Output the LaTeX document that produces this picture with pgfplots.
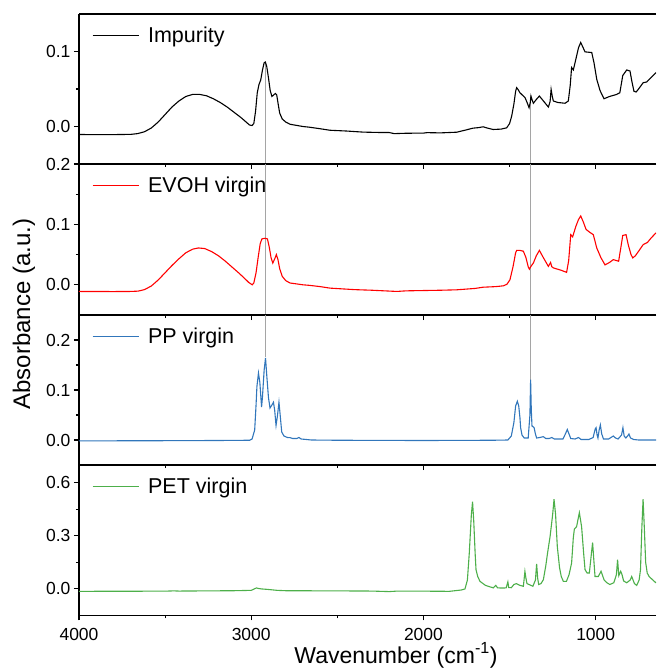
\documentclass[border=0pt]{standalone}
\usepackage{fontspec}
\setmainfont{Liberation Sans}
\usepackage{pgfplots}
\pgfplotsset{compat=1.18}
\definecolor{ppblue}{RGB}{49,118,187}
\definecolor{petgreen}{RGB}{77,175,74}
\definecolor{vgray}{RGB}{165,165,165}
\pgfplotsset{
 panel/.style={
  scale only axis, width=577pt, xmin=650, xmax=4000, x dir=reverse,
  axis x line*=box, axis y line*=left,
  xtick={1000,2000,3000,4000}, minor x tick num=1, minor y tick num=1,
  xtick pos=lower, ytick pos=left,
  tick align=outside,
  major tick length=5pt, minor tick length=3pt,
  every tick/.style={black, line width=1.1pt},
  axis line style={line width=1.2pt, -},
  tick label style={font=\fontsize{17.5}{20}\selectfont},
  /pgf/number format/assume math mode=true,
  yticklabel style={/pgf/number format/.cd, fixed, fixed zerofill, precision=1},
  xticklabel style={/pgf/number format/1000 sep={}, yshift=-4pt},
  legend style={draw=none, fill=none, at={(0,1)}, anchor=north west,
    xshift=13pt, yshift=-13.3pt, inner sep=0pt, outer sep=0pt,
    nodes={inner sep=0pt, outer sep=0pt},
    font=\fontsize{21.5}{24}\selectfont},
  legend cell align=left,
  legend image code/.code={\draw[##1] (0pt,0pt) -- (46pt,0pt); \path (55pt,0pt);},
 }
}
\begin{document}
\begin{tikzpicture}
\path[use as bounding box] (0pt,0pt) rectangle (656pt,-668pt);

% Panel 1: Impurity
\begin{axis}[panel, at={(79pt,-14pt)}, anchor=north west, height=150pt,
  ymin=-0.05, ymax=0.15, ytick={0,0.1}, xticklabels={}]
\draw[vgray, line width=1pt] (axis cs:2920,0.086) -- (axis cs:2920,-0.05);
\draw[vgray, line width=1pt] (axis cs:1376,0.041) -- (axis cs:1376,-0.05);
\addplot[black, line width=1.1pt] table {
4000 -0.0107
3900 -0.0108
3800 -0.0108
3700 -0.0105
3660 -0.0095
3620 -0.007
3580 -0.002
3540 0.006
3500 0.016
3460 0.026
3420 0.034
3380 0.040
3340 0.0428
3300 0.0428
3260 0.041
3220 0.037
3180 0.032
3140 0.026
3100 0.019
3060 0.012
3030 0.006
3010 0.002
2995 0.0013
2985 0.004
2975 0.02
2965 0.045
2955 0.056
2945 0.062
2935 0.075
2925 0.085
2918 0.086
2910 0.080
2900 0.065
2890 0.048
2880 0.040
2870 0.042
2860 0.044
2852 0.042
2845 0.032
2835 0.018
2820 0.010
2800 0.006
2775 0.003
2700 0.0
2660 -0.001
2600 -0.003
2543 -0.005
2450 -0.006
2350 -0.0075
2250 -0.008
2200 -0.008
2170 -0.0095
2100 -0.009
2000 -0.0088
1980 -0.0082
1900 -0.0085
1807 -0.0076
1760 -0.005
1712 -0.0022
1680 -0.0015
1654 -0.0004
1630 -0.002
1596 -0.004
1550 -0.0035
1517 -0.0018
1500 0.004
1488 0.0138
1475 0.03
1465 0.047
1459 0.0518
1450 0.049
1440 0.045
1430 0.0428
1410 0.0384
1395 0.030
1387 0.025
1380 0.032
1376 0.0406
1370 0.036
1362 0.031
1345 0.036
1327 0.0406
1300 0.033
1275 0.026
1265 0.033
1259 0.0495
1252 0.040
1246 0.034
1220 0.032
1178 0.031
1159 0.034
1148 0.055
1140 0.0786
1130 0.0754
1115 0.090
1100 0.105
1087 0.112
1075 0.106
1062 0.0995
1023 0.0986
1010 0.085
994 0.0629
975 0.048
952 0.037
920 0.040
878 0.0428
860 0.045
843 0.068
820 0.0754
801 0.074
790 0.060
778 0.047
765 0.046
753 0.0495
724 0.0585
704 0.0593
680 0.065
650 0.0719
};
\addlegendentry{Impurity}
\end{axis}

% Panel 2: EVOH
\begin{axis}[panel, at={(79pt,-164pt)}, anchor=north west, height=151pt,
  ymin=-0.05, ymax=0.2, ytick={0,0.1,0.2}, xticklabels={}]
\draw[vgray, line width=1pt] (axis cs:2920,-0.05) -- (axis cs:2920,0.2);
\draw[vgray, line width=1pt] (axis cs:1376,-0.05) -- (axis cs:1376,0.2);
\addplot[red, line width=1.1pt] table {
4000 -0.011
3800 -0.0112
3700 -0.011
3657 -0.0105
3620 -0.008
3580 -0.002
3540 0.008
3500 0.020
3460 0.032
3420 0.043
3380 0.053
3340 0.059
3307 0.061
3270 0.060
3230 0.055
3190 0.048
3150 0.039
3110 0.029
3070 0.019
3040 0.011
3015 0.004
2994 0.0
2985 0.003
2972 0.02
2960 0.045
2948 0.068
2938 0.076
2920 0.077
2906 0.076
2895 0.062
2885 0.045
2875 0.036
2865 0.042
2854 0.050
2845 0.042
2835 0.027
2820 0.014
2800 0.007
2775 0.003
2700 0.0
2659 -0.001
2600 -0.003
2543 -0.0055
2400 -0.008
2300 -0.009
2155 -0.011
2100 -0.010
2000 -0.0095
1900 -0.009
1807 -0.0083
1700 -0.006
1654 -0.004
1580 -0.003
1536 -0.0017
1515 0.001
1498 0.0083
1480 0.03
1465 0.053
1459 0.057
1440 0.057
1420 0.0556
1405 0.045
1392 0.030
1385 0.026
1375 0.031
1362 0.036
1345 0.048
1327 0.057
1310 0.048
1290 0.038
1275 0.0305
1262 0.037
1255 0.030
1246 0.028
1200 0.024
1169 0.0206
1157 0.040
1145 0.083
1134 0.0794
1115 0.097
1100 0.108
1087 0.114
1072 0.104
1056 0.0917
1035 0.087
1014 0.083
994 0.061
970 0.045
946 0.033
920 0.037
898 0.0417
867 0.039
855 0.060
843 0.0817
824 0.083
810 0.065
795 0.050
785 0.0445
770 0.048
750 0.056
724 0.0667
700 0.070
680 0.077
650 0.086
};
\addlegendentry{EVOH virgin}
\end{axis}

% Panel 3: PP
\begin{axis}[panel, at={(79pt,-315pt)}, anchor=north west, height=150pt,
  ymin=-0.05, ymax=0.25, ytick={0,0.1,0.2}, xticklabels={}]
\draw[vgray, line width=1pt] (axis cs:2920,0.25) -- (axis cs:2920,0.166);
\draw[vgray, line width=1pt] (axis cs:1376,0.25) -- (axis cs:1376,0.121);
\addplot[ppblue, line width=1.1pt] table {
4000 -0.0017
3600 -0.0015
3200 -0.001
3010 -0.0005
2995 0.002
2980 0.02
2972 0.07
2967 0.107
2958 0.134
2950 0.115
2940 0.066
2935 0.085
2925 0.140
2917 0.164
2910 0.130
2900 0.085
2891 0.064
2880 0.070
2871 0.0755
2864 0.060
2856 0.029
2848 0.048
2839 0.0755
2832 0.050
2823 0.016
2810 0.008
2790 0.005
2775 0.0047
2760 0.003
2735 0.003
2723 0.005
2710 0.002
2650 0.0
2500 -0.0005
2000 -0.001
1600 -0.0005
1510 0.0
1490 0.008
1475 0.035
1465 0.068
1455 0.0775
1447 0.068
1440 0.045
1436 0.0246
1428 0.010
1415 0.004
1392 0.004
1382 0.05
1378 0.1206
1374 0.06
1370 0.028
1362 0.026
1358 0.025
1350 0.012
1343 0.004
1325 0.005
1304 0.0067
1290 0.003
1270 0.003
1255 0.005
1240 0.002
1190 0.002
1175 0.013
1165 0.021
1155 0.012
1145 0.003
1120 0.002
1100 0.005
1085 0.001
1040 0.001
1015 0.005
1003 0.022
998 0.0246
992 0.01
987 0.004
980 0.02
973 0.03
965 0.012
955 0.002
925 0.002
898 0.008
885 0.004
870 0.002
850 0.01
842 0.0246
835 0.008
825 0.004
815 0.008
807 0.012
798 0.004
780 0.001
750 0.0
650 0.0
};
\addlegendentry{PP virgin}
\end{axis}

% Panel 4: PET
\begin{axis}[panel, at={(79pt,-465pt)}, anchor=north west, height=150.5pt,
  ymin=-0.15, ymax=0.7, ytick={0,0.3,0.6}]
\addplot[petgreen, line width=1.1pt] table {
4000 -0.0135
3500 -0.0125
3450 -0.011
3420 -0.012
3100 -0.010
3000 -0.008
2970 0.0056
2960 0.003
2940 0.000
2900 -0.003
2850 -0.008
2800 -0.01
2500 -0.011
2300 -0.012
2200 -0.015
2150 -0.012
2000 -0.0125
1850 -0.0135
1780 -0.006
1759 0.0
1745 0.05
1734 0.203
1722 0.42
1715 0.493
1708 0.38
1700 0.2
1695 0.109
1685 0.07
1672 0.043
1640 0.02
1615 0.012
1600 0.008
1595 0.0056
1580 0.02
1570 0.006
1540 0.005
1520 0.006
1510 0.04
1505 0.008
1490 0.007
1475 0.025
1460 0.03
1440 0.02
1420 0.015
1411 0.099
1405 0.06
1399 0.03
1380 0.022
1365 0.015
1350 0.05
1343 0.142
1337 0.06
1331 0.025
1318 0.03
1304 0.052
1290 0.13
1280 0.20
1265 0.296
1250 0.42
1242 0.507
1233 0.42
1223 0.24
1210 0.12
1200 0.07
1188 0.043
1170 0.043
1155 0.08
1140 0.146
1130 0.29
1124 0.338
1111 0.352
1095 0.431
1082 0.352
1070 0.2
1062 0.109
1050 0.09
1037 0.09
1025 0.2
1018 0.262
1010 0.15
1004 0.07
985 0.07
969 0.1
951 0.05
935 0.035
918 0.025
895 0.035
880 0.08
873 0.165
866 0.075
855 0.1
847 0.08
838 0.045
820 0.035
800 0.05
791 0.07
775 0.03
762 0.02
748 0.05
740 0.109
732 0.35
725 0.507
718 0.35
710 0.15
701 0.09
690 0.07
670 0.052
650 0.034
};
\addlegendentry{PET virgin}
\end{axis}

\node[rotate=90, font=\fontsize{24}{28}\selectfont] at (24pt,-314pt) {Absorbance (a.u.)};
\node[anchor=base, font=\fontsize{23}{27}\selectfont] at (396pt,-663pt) {Wavenumber (cm\textsuperscript{-1})};
\end{tikzpicture}
\end{document}
